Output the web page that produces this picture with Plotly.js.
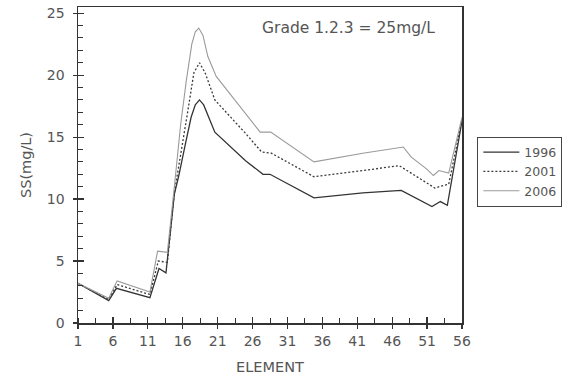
<!DOCTYPE html>
<html>
<head>
<meta charset="utf-8">
<script src="https://cdn.plot.ly/plotly-3.0.1.min.js"></script>
<style>html,body{margin:0;padding:0;background:#fff}#chart{width:569px;height:382px}</style>
</head>
<body>
<div id="chart"></div>
<script>
// Series (element position, SS mg/L)
const x1996 = [1, 5.4, 6.5, 11.3, 12.6, 13.6, 14.8, 15.4, 16.4, 17.2, 17.8, 18.4, 19.0, 19.7, 20.6, 25.0, 27.5, 28.5, 34.8, 41.8, 47.3, 51.7, 52.9, 53.9, 56];
const y1996 = [3.2, 1.8, 2.8, 2.05, 4.4, 4.05, 10.4, 11.8, 14.5, 16.6, 17.6, 18.0, 17.6, 16.6, 15.4, 13.1, 12.0, 12.0, 10.1, 10.5, 10.7, 9.4, 9.8, 9.5, 16.3];

const x2001 = [1, 5.4, 6.6, 11.3, 12.5, 13.8, 14.8, 15.8, 16.7, 17.6, 18.4, 19.2, 20.6, 25.0, 27.3, 28.7, 34.8, 41.8, 47.0, 52.1, 54.1, 56];
const y2001 = [3.2, 1.9, 3.1, 2.3, 5.0, 4.9, 10.5, 13.8, 17.0, 20.2, 21.0, 20.2, 18.0, 15.3, 13.8, 13.7, 11.8, 12.3, 12.7, 10.9, 11.2, 16.4];

const x2006 = [1, 5.4, 6.6, 11.3, 12.4, 13.8, 14.8, 15.7, 16.5, 17.3, 17.8, 18.3, 18.9, 19.6, 20.8, 27.1, 28.6, 34.8, 41.8, 47.6, 48.7, 49.9, 51.0, 51.9, 52.7, 54.1, 56];
const y2006 = [3.2, 2.0, 3.4, 2.5, 5.8, 5.7, 11.0, 16.0, 19.5, 22.5, 23.5, 23.8, 23.2, 21.5, 19.9, 15.4, 15.4, 13.0, 13.7, 14.2, 13.4, 12.9, 12.4, 11.9, 12.3, 12.1, 16.6];

const seriesNames = ['1996', '2001', '2006'];
const xRange = [1, 56];
const yRange = [0, 25.5];
const noteText = 'Grade 1.2.3 = 25mg/L';

const FONT = 'DejaVu Sans, Verdana, sans-serif';
const GRAY = '#555';

const traces = [
  {x: x1996, y: y1996, name: seriesNames[0], mode: 'lines', line: {color: '#333', width: 1.3}},
  {x: x2001, y: y2001, name: seriesNames[1], mode: 'lines', line: {color: '#3a3a3a', width: 1.3, dash: '2px,2px'}},
  {x: x2006, y: y2006, name: seriesNames[2], mode: 'lines', line: {color: '#9a9a9a', width: 1.1}}
];

const layout = {
  width: 569, height: 382,
  margin: {l: 78, r: 97, t: 7, b: 59},
  paper_bgcolor: '#fff', plot_bgcolor: '#fff',
  font: {family: FONT, color: GRAY, size: 13},
  showlegend: true,
  legend: {
    x: 1.04, y: 0.59, xanchor: 'left', yanchor: 'top',
    bordercolor: '#444', borderwidth: 1, bgcolor: '#fff',
    font: {family: FONT, size: 12.5, color: GRAY},
    itemwidth: 36,
    tracegroupgap: 0
  },
  xaxis: {
    range: xRange, tick0: 1, dtick: 5, tickmode: 'linear',
    showgrid: false, zeroline: false,
    showline: true, linecolor: '#333', linewidth: 1.5, mirror: true,
    ticks: 'outside', ticklen: 4, tickcolor: '#333', tickwidth: 1.2,
    ticklabelstandoff: 1,
    tickfont: {family: FONT, size: 14, color: GRAY},
    minor: {dtick: 2.5, tick0: 1, ticks: 'inside', ticklen: 5, tickcolor: '#333', tickwidth: 1, showgrid: false},
    title: {text: 'ELEMENT', font: {family: FONT, size: 14.5, color: GRAY}, standoff: 13},
    fixedrange: true
  },
  xaxis2: {
    overlaying: 'x', anchor: 'y', side: 'bottom',
    range: xRange, tick0: 1, dtick: 5, tickmode: 'linear',
    showgrid: false, zeroline: false, showline: false,
    ticks: 'inside', ticklen: 6, tickcolor: '#333', tickwidth: 1.2,
    showticklabels: false
  },
  yaxis: {
    range: yRange, tick0: 0, dtick: 5, tickmode: 'linear',
    showgrid: false, zeroline: false,
    showline: true, linecolor: '#333', linewidth: 1.5, mirror: true,
    ticks: 'outside', ticklen: 4, tickcolor: '#333', tickwidth: 1.2,
    ticklabelstandoff: 5,
    tickfont: {family: FONT, size: 14, color: GRAY},
    minor: {dtick: 1, tick0: 0, ticks: 'inside', ticklen: 5, tickcolor: '#333', tickwidth: 1, showgrid: false},
    title: {text: 'SS(mg/L)', font: {family: FONT, size: 14.5, color: GRAY}, standoff: 12},
    fixedrange: true
  },
  yaxis2: {
    overlaying: 'y', anchor: 'x', side: 'left',
    range: yRange, tick0: 0, dtick: 5, tickmode: 'linear',
    showgrid: false, zeroline: false, showline: false,
    ticks: 'inside', ticklen: 6, tickcolor: '#333', tickwidth: 1.2,
    showticklabels: false
  },
  annotations: [{
    text: noteText, xref: 'paper', yref: 'paper', x: 0.705, y: 0.935,
    xanchor: 'center', yanchor: 'middle', showarrow: false,
    font: {family: FONT, size: 15.5, color: GRAY}
  }]
};

// invisible helper trace so the overlay tick axes render
traces.push({x: xRange, y: yRange, xaxis: 'x2', yaxis: 'y2', mode: 'markers', marker: {opacity: 0}, showlegend: false, hoverinfo: 'skip'});

Plotly.newPlot('chart', traces, layout, {displayModeBar: false, staticPlot: true});
</script>
</body>
</html>
